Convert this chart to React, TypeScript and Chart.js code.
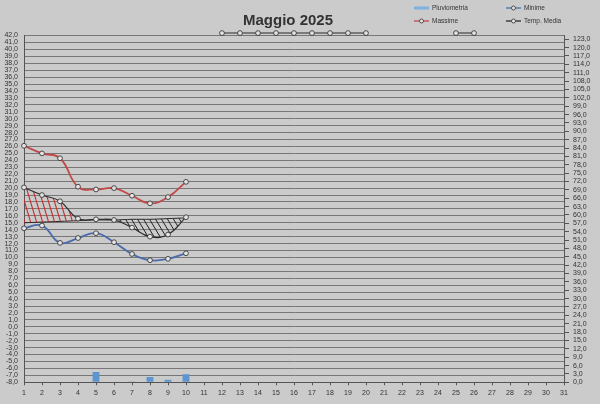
import React, { useEffect, useRef } from 'react';
import { Chart, registerables } from 'chart.js';

Chart.register(...registerables);

const titolo = 'Maggio 2025';
const giorni = ['1','2','3','4','5','6','7','8','9','10','11','12','13','14','15','16','17','18','19','20','21','22','23','24','25','26','27','28','29','30','31'];
const massime = [26.1, 25.0, 24.3, 20.2, 19.8, 20.0, 18.9, 17.8, 18.7, 20.9, null, null, null, null, null, null, null, null, null, null, null, null, null, null, null, null, null, null, null, null, null];
const minime = [14.2, 14.6, 12.1, 12.8, 13.5, 12.2, 10.5, 9.6, 9.8, 10.6, null, null, null, null, null, null, null, null, null, null, null, null, null, null, null, null, null, null, null, null, null];
const tempMedia = [20.1, 19.0, 18.1, 15.6, 15.5, 15.4, 14.3, 13.0, 13.3, 15.8, null, 42.35, 42.35, 42.35, 42.35, 42.35, 42.35, 42.35, 42.35, 42.35, null, null, null, null, 42.35, 42.35, null, null, null, null, null];
const mediaRiferimento = [15.0, 15.1, 15.2, 15.3, 15.4, 15.4, 15.5, 15.5, 15.6, 15.7, null, null, null, null, null, null, null, null, null, null, null, null, null, null, null, null, null, null, null, null, null];
const pluviometria = [0, 0, 0, 0, 3.7, 0, 0.3, 1.9, 0.9, 2.9, null, null, null, null, null, null, null, null, null, null, null, null, null, null, null, null, null, null, null, null, null];
const legendaVoci = ['Pluviometria', 'Minime', 'Massime', 'Temp. Media'];

const BG = '#cccbcb';
const TXT = '#333333';
const GRID = '#777777';
const AXIS = '#555555';
const RED = '#bf4a48';
const BLUE = '#4a6cab';
const BLACK = '#2a2a2a';
const BAR = '#5b96cf';
const TICKFONT = "'Liberation Sans Narrow', 'Liberation Sans', Arial, sans-serif";

function hatch(color: string, w: number, h: number, lw: number) {
  const c = document.createElement('canvas');
  c.width = w;
  c.height = h;
  const x = c.getContext('2d')!;
  x.strokeStyle = color;
  x.lineWidth = lw;
  x.beginPath();
  for (const o of [-w, 0, w]) {
    x.moveTo(o, 0);
    x.lineTo(o + w, h);
  }
  x.stroke();
  return x.createPattern(c, 'repeat');
}

const fmt = (v: number) => v.toFixed(1).replace('.', ',');

const decorPlugin = {
  id: 'decor',
  afterDraw(chart: any) {
    const ctx = chart.ctx as CanvasRenderingContext2D;
    ctx.save();
    ctx.fillStyle = TXT;
    ctx.font = "bold 15px 'Liberation Sans', Arial, sans-serif";
    ctx.textAlign = 'center';
    ctx.textBaseline = 'alphabetic';
    ctx.fillText(titolo, 288, 25);

    const items = [
      { t: legendaVoci[0], x: 414, y: 8, c: '#7fb0de', bar: true },
      { t: legendaVoci[1], x: 506, y: 8, c: BLUE, bar: false },
      { t: legendaVoci[2], x: 414, y: 21, c: RED, bar: false },
      { t: legendaVoci[3], x: 506, y: 21, c: BLACK, bar: false },
    ];
    ctx.font = `6.5px ${TICKFONT}`;
    ctx.textAlign = 'left';
    ctx.textBaseline = 'middle';
    for (const it of items) {
      ctx.strokeStyle = it.c;
      ctx.lineWidth = it.bar ? 3 : 1.3;
      ctx.beginPath();
      ctx.moveTo(it.x, it.y);
      ctx.lineTo(it.x + 15, it.y);
      ctx.stroke();
      if (!it.bar) {
        ctx.beginPath();
        ctx.arc(it.x + 7.5, it.y, 2, 0, Math.PI * 2);
        ctx.fillStyle = '#e6e6e6';
        ctx.fill();
        ctx.strokeStyle = '#444';
        ctx.lineWidth = 0.9;
        ctx.stroke();
      }
      ctx.fillStyle = TXT;
      ctx.fillText(it.t, it.x + 18, it.y + 0.5);
    }
    ctx.restore();
  },
};

export default function App() {
  const ref = useRef<HTMLCanvasElement | null>(null);
  useEffect(() => {
    if (!ref.current) return;
    const redHatch = hatch('#c0302e', 6, 20, 1.1);
    const blackHatch = hatch('#222222', 6, 10, 1);
    const pointStyle = {
      pointRadius: 2.4,
      pointHoverRadius: 2.4,
      pointBackgroundColor: '#e4e4e4',
      pointBorderColor: '#3a3a3a',
      pointBorderWidth: 0.9,
    };
    const chart = new Chart(ref.current, {
      type: 'bar',
      data: {
        labels: giorni,
        datasets: [
          {
            type: 'line',
            label: legendaVoci[2],
            data: massime,
            borderColor: RED,
            borderWidth: 1.8,
            tension: 0.45,
            fill: false,
            yAxisID: 'y',
            ...pointStyle,
          } as any,
          {
            type: 'line',
            label: legendaVoci[1],
            data: minime,
            borderColor: BLUE,
            borderWidth: 1.8,
            tension: 0.45,
            fill: false,
            yAxisID: 'y',
            ...pointStyle,
          } as any,
          {
            type: 'line',
            label: legendaVoci[3],
            data: tempMedia,
            borderColor: BLACK,
            borderWidth: 1.1,
            tension: 0.45,
            clip: false,
            fill: { target: 4, above: redHatch, below: blackHatch },
            yAxisID: 'y',
            ...pointStyle,
          } as any,
          {
            type: 'bar',
            label: legendaVoci[0],
            data: pluviometria,
            backgroundColor: BAR,
            barPercentage: 0.38,
            categoryPercentage: 1,
            yAxisID: 'y1',
          } as any,
          {
            type: 'line',
            label: 'Riferimento',
            data: mediaRiferimento,
            borderColor: BLACK,
            borderWidth: 1,
            tension: 0.3,
            pointRadius: 0,
            fill: false,
            yAxisID: 'y',
          } as any,
        ],
      },
      options: {
        animation: false,
        responsive: true,
        maintainAspectRatio: false,
        layout: { padding: { top: 35.5, left: 0, right: 0, bottom: 0 } },
        plugins: {
          legend: { display: false },
          title: { display: false },
          tooltip: { enabled: false },
        },
        scales: {
          x: {
            type: 'category',
            offset: false,
            grid: { display: true, offset: false, drawOnChartArea: false, drawTicks: true, tickLength: 3, color: AXIS },
            border: { display: true, color: AXIS, width: 1 },
            ticks: { color: TXT, font: { size: 7, family: TICKFONT }, padding: 4, autoSkip: false, maxRotation: 0 },
            afterFit: (s: any) => { s.height = 21.7; },
          },
          y: {
            type: 'linear',
            position: 'left',
            min: -8,
            max: 42,
            grid: { color: GRID, lineWidth: 1, drawTicks: false },
            border: { display: true, color: AXIS, width: 1 },
            ticks: {
              stepSize: 1,
              autoSkip: false,
              color: TXT,
              padding: 6,
              font: { size: 7, family: TICKFONT },
              callback: (v: any) => fmt(Number(v)),
            },
            afterFit: (s: any) => { s.width = 24; },
          },
          y1: {
            type: 'linear',
            position: 'right',
            min: 0,
            max: 124.35,
            grid: { drawOnChartArea: false, drawTicks: true, tickLength: 5, color: AXIS },
            border: { display: true, color: AXIS, width: 1 },
            ticks: {
              stepSize: 3,
              includeBounds: false,
              autoSkip: false,
              color: TXT,
              padding: 4,
              font: { size: 7, family: TICKFONT },
              callback: (v: any) => fmt(Number(v)),
            },
            afterBuildTicks: (s: any) => {
              s.ticks = s.ticks.filter((t: any) => t.value <= 123.0001 && Math.abs(t.value / 3 - Math.round(t.value / 3)) < 1e-6);
            },
            afterFit: (s: any) => { s.width = 36; },
          },
        },
      },
      plugins: [decorPlugin],
    });
    return () => chart.destroy();
  }, []);

  return (
    <div style={{ position: 'fixed', left: 0, top: 0, width: 600, height: 404, background: BG }}>
      <canvas ref={ref} />
    </div>
  );
}
